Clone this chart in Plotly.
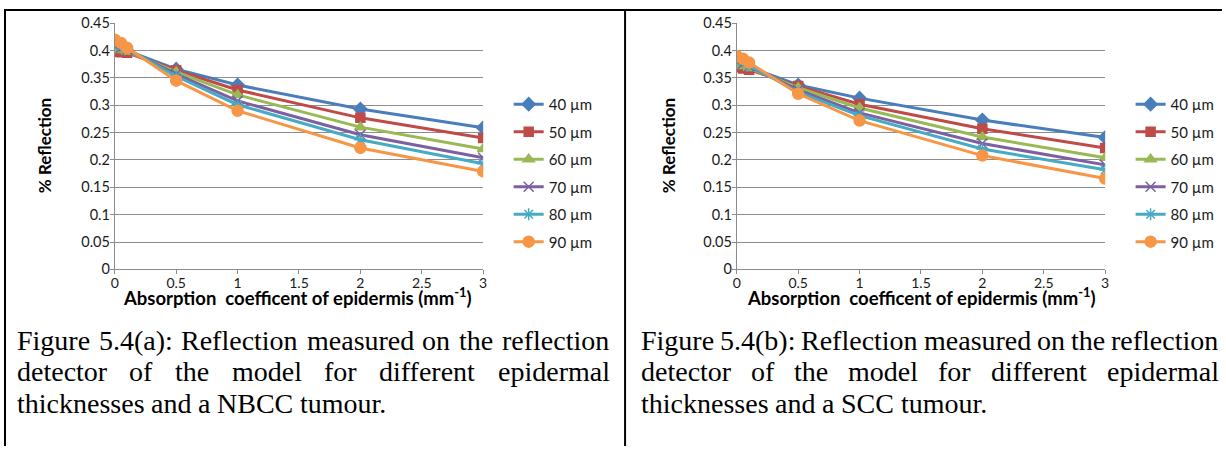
import plotly.graph_objects as go

W, H = 1226, 454
# The page is photographed with an 8px body margin and scaled back to W x H,
# so target positions are mapped into figure pixels with this transform.
SX = (W + 16) / W
SY = (H + 16) / H

# ---------------- data ----------------
x_vals = [0, 0.05, 0.1, 0.5, 1, 2, 3]
series_names = ["40 µm", "50 µm", "60 µm", "70 µm", "80 µm", "90 µm"]

nbcc_40 = [0.405, 0.403, 0.400, 0.366, 0.337, 0.293, 0.259]
nbcc_50 = [0.398, 0.397, 0.396, 0.364, 0.328, 0.277, 0.240]
nbcc_60 = [0.403, 0.401, 0.398, 0.361, 0.319, 0.260, 0.220]
nbcc_70 = [0.408, 0.405, 0.401, 0.357, 0.308, 0.246, 0.204]
nbcc_80 = [0.412, 0.408, 0.403, 0.353, 0.301, 0.237, 0.193]
nbcc_90 = [0.420, 0.414, 0.405, 0.345, 0.290, 0.222, 0.179]

scc_40 = [0.378, 0.374, 0.370, 0.337, 0.313, 0.273, 0.241]
scc_50 = [0.370, 0.367, 0.365, 0.335, 0.302, 0.257, 0.222]
scc_60 = [0.375, 0.372, 0.368, 0.332, 0.295, 0.242, 0.204]
scc_70 = [0.380, 0.376, 0.371, 0.328, 0.286, 0.230, 0.191]
scc_80 = [0.383, 0.379, 0.373, 0.324, 0.281, 0.220, 0.182]
scc_90 = [0.390, 0.385, 0.378, 0.321, 0.272, 0.208, 0.166]

nbcc = [nbcc_40, nbcc_50, nbcc_60, nbcc_70, nbcc_80, nbcc_90]
scc = [scc_40, scc_50, scc_60, scc_70, scc_80, scc_90]

x_ticks = [0, 0.5, 1, 1.5, 2, 2.5, 3]
y_ticks = [0, 0.05, 0.1, 0.15, 0.2, 0.25, 0.3, 0.35, 0.4, 0.45]

captions_a = ["Figure 5.4(a): Reflection measured on the reflection",
              "detector of the model for different epidermal",
              "thicknesses and a NBCC tumour."]
captions_b = ["Figure 5.4(b): Reflection measured on the reflection",
              "detector of the model for different epidermal",
              "thicknesses and a SCC tumour."]

x_title = "<b>Absorption  coefficent of epidermis (mm<sup>-1</sup>)</b>"
y_title = "<b>% Reflection</b>"

# ---------------- styles ----------------
colors = ["#4A7EBB", "#BE4B48", "#98B954", "#7D60A0", "#46AAC5", "#F79646"]
symbols = ["diamond", "square", "triangle-up", "x-thin-open", "asterisk-open", "circle"]
msizes = [10, 9, 10, 10, 10, 11]
grid_col = "#8C8C8C"
SANS = "Lato, Open Sans, sans-serif"


def px_x(p):
    return (p * SX - 8) / W


def px_y(p):
    return 1 - (p * SY - 8) / H


fig = go.Figure()

for panel, (data, xa, ya, lg) in enumerate([(nbcc, "x", "y", "legend"), (scc, "x2", "y2", "legend2")]):
    for i, ys in enumerate(data):
        fig.add_trace(go.Scatter(
            x=x_vals, y=ys, mode="lines+markers", name=series_names[i],
            xaxis=xa, yaxis=ya, legend=lg, legendgroup=f"{panel}_{i}",
            line=dict(color=colors[i], width=3),
            marker=dict(symbol=symbols[i], size=msizes[i], color=colors[i],
                        line=dict(color=colors[i], width=1.5)),
        ))

y_dom = [px_y(269), px_y(22)]
axis_common = dict(showgrid=False, zeroline=False, showline=True, linecolor=grid_col,
                   linewidth=1, ticks="outside", ticklen=4, tickcolor=grid_col,
                   ticklabelstandoff=-3,
                   tickfont=dict(family=SANS, size=14, color="#1a1a1a"),
                   tickvals=x_ticks, range=[0, 3])
yaxis_common = dict(showgrid=True, gridcolor=grid_col, gridwidth=1, zeroline=False,
                    showline=True, linecolor=grid_col, linewidth=1, ticks="outside",
                    ticklen=4, tickcolor=grid_col,
                    tickfont=dict(family=SANS, size=14.5, color="#1a1a1a"),
                    ticklabelstandoff=-3,
                    tickvals=y_ticks, ticktext=[f"{v:g}" for v in y_ticks],
                    range=[0, 0.45], domain=y_dom)

legend_common = dict(font=dict(family=SANS, size=15, color="#1a1a1a"),
                     bgcolor="rgba(0,0,0,0)", borderwidth=0, tracegroupgap=5,
                     xanchor="left", yanchor="top", itemclick=False)

fig.update_layout(
    width=W, height=H, margin=dict(l=0, r=0, t=0, b=0),
    paper_bgcolor="white", plot_bgcolor="white",
    xaxis=dict(domain=[px_x(118), px_x(484)], anchor="y", **axis_common),
    yaxis=dict(anchor="x", **yaxis_common),
    xaxis2=dict(domain=[px_x(736), px_x(1102)], anchor="y2", **axis_common),
    yaxis2=dict(anchor="x2", **yaxis_common),
    legend=dict(x=(508) / W, y=1 - 82 / H, **legend_common),
    legend2=dict(x=(1134) / W, y=1 - 82 / H, **legend_common),
)

# axis titles
annots = []
for cx, ycx in [(300, 48), (920, 668)]:
    annots.append(dict(text=x_title, x=px_x(cx), y=px_y(296), xref="paper", yref="paper",
                       showarrow=False, xanchor="center", yanchor="middle",
                       font=dict(family=SANS, size=18.5, color="#000")))
    annots.append(dict(text=y_title, x=px_x(ycx), y=px_y(145), xref="paper", yref="paper",
                       showarrow=False, xanchor="center", yanchor="middle", textangle=-90,
                       font=dict(family=SANS, size=17, color="#000")))

# justified captions (Times metrics, per 1000 em)
tw = {' ': 250, 'a': 444, 'b': 500, 'c': 444, 'd': 500, 'e': 444, 'f': 333, 'g': 500,
      'h': 500, 'i': 278, 'k': 500, 'l': 278, 'm': 778, 'n': 500, 'o': 500, 'p': 500,
      'r': 333, 's': 389, 't': 278, 'u': 500, 'F': 556, 'R': 667, 'N': 722, 'B': 667,
      'C': 667, 'S': 556, '.': 250, '(': 333, ')': 333, ':': 278, '4': 500, '5': 500}
FS = 28


def word_w(wd):
    # width as it appears in the final picture
    return sum(tw.get(c, 500) for c in wd) * FS / 1000.0 / SX


for lines, x0, x1 in [(captions_a, 20, 608), (captions_b, 640, 1213)]:
    for li, line in enumerate(lines):
        words = line.split()
        widths = [word_w(w) for w in words]
        if li < len(lines) - 1:
            gap = (x1 - x0 - sum(widths)) / (len(words) - 1)
        else:
            gap = 250 * FS / 1000.0 / SX
        pos = x0
        for wd, ww in zip(words, widths):
            annots.append(dict(text=wd, x=px_x(pos), y=px_y(340 + 32 * li), xref="paper",
                               yref="paper", showarrow=False, xanchor="left", yanchor="middle",
                               borderpad=0,
                               font=dict(family="Liberation Serif, Times New Roman, serif",
                                         size=FS, color="#000")))
            pos += ww + gap

fig.update_layout(annotations=annots)

# table borders
shapes = [
    dict(type="line", xref="paper", yref="paper", x0=0, x1=1, y0=1 - 1 / H, y1=1 - 1 / H,
         line=dict(color="black", width=2)),
    dict(type="line", xref="paper", yref="paper", x0=1 / W, x1=1 / W, y0=1 - 1 / H, y1=0,
         line=dict(color="black", width=2)),
    dict(type="line", xref="paper", yref="paper", x0=px_x(625), x1=px_x(625), y0=1 - 1 / H, y1=0,
         line=dict(color="black", width=2)),
]
fig.update_layout(shapes=shapes)

fig.write_html("out.html")
